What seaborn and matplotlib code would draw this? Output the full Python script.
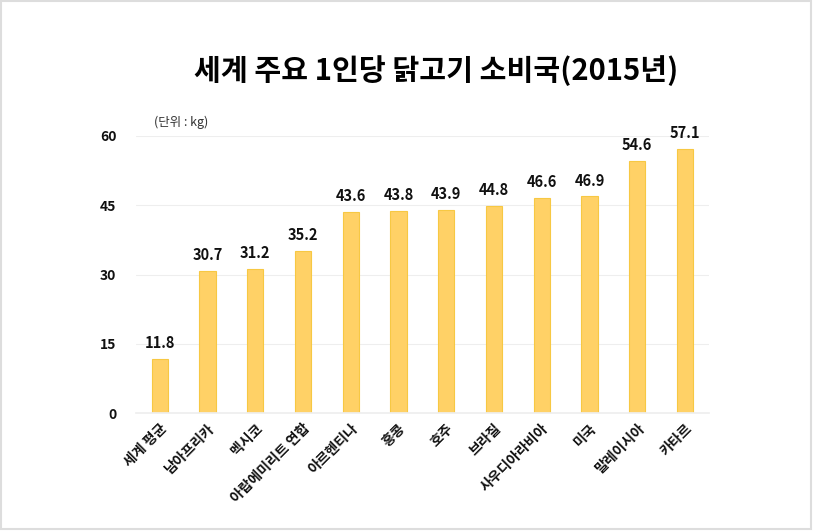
import matplotlib
matplotlib.use('Agg')
import matplotlib.pyplot as plt
import seaborn as sns
import pandas as pd

# data
countries = ['세계 평균', '남아프리카', '멕시코', '아랍에미리트 연합', '아르헨티나', '홍콩',
             '호주', '브라질', '사우디아라비아', '미국', '말레이시아', '카타르']
consumption = [11.8, 30.7, 31.2, 35.2, 43.6, 43.8, 43.9, 44.8, 46.6, 46.9, 54.6, 57.1]
yticks = [0, 15, 30, 45, 60]

sns.set_theme(style='white')
plt.rcParams['font.family'] = ['Noto Sans CJK KR', 'DejaVu Sans']

df = pd.DataFrame({'country': countries, 'kg': consumption})

fig = plt.figure(figsize=(8.13, 5.31), dpi=100)
ax = fig.add_axes([0.167, 0.222, 0.705, 0.522])

sns.barplot(data=df, x='country', y='kg', color='#FFD166', width=0.34,
            edgecolor='#F7C843', linewidth=0.8, saturation=1, ax=ax)

ax.set_ylim(0, 60)
ax.set_yticks(yticks)
ax.set_yticklabels([str(t) for t in yticks], fontsize=10, fontweight='bold', color='#111111')
ax.yaxis.grid(True, color='#EEEEEE', linewidth=0.8)
ax.set_axisbelow(True)
ax.tick_params(axis='y', length=0, pad=14)
ax.tick_params(axis='x', length=0, pad=6)
ax.set_xticks(range(len(countries)))
ax.set_xticklabels(countries, rotation=45, ha='right', rotation_mode='anchor',
                   fontsize=10, fontweight='bold', color='#111111')
ax.set_xlabel('')
ax.set_ylabel('')
for s in ['top', 'right', 'left']:
    ax.spines[s].set_visible(False)
ax.spines['bottom'].set_color('#EEEEEE')

for i, v in enumerate(consumption):
    ax.text(i, v + 1.7, f'{v:.1f}', ha='center', va='bottom',
            fontsize=10.5, fontweight='bold', color='#111111')

fig.text(0.537, 0.868, '세계 주요 1인당 닭고기 소비국(2015년)', ha='center', va='center',
         fontsize=21, fontweight='black', color='#000000')
fig.text(0.19, 0.77, '(단위 : kg)', ha='left', va='center', fontsize=9, color='#333333')

# light frame around the image
fig.patches.append(plt.Rectangle((0.001, 0.003), 0.996, 0.995, transform=fig.transFigure,
                                 fill=False, edgecolor='#DDDDDD', linewidth=1.5))

fig.savefig('out.png', dpi=100)
plt.close()
